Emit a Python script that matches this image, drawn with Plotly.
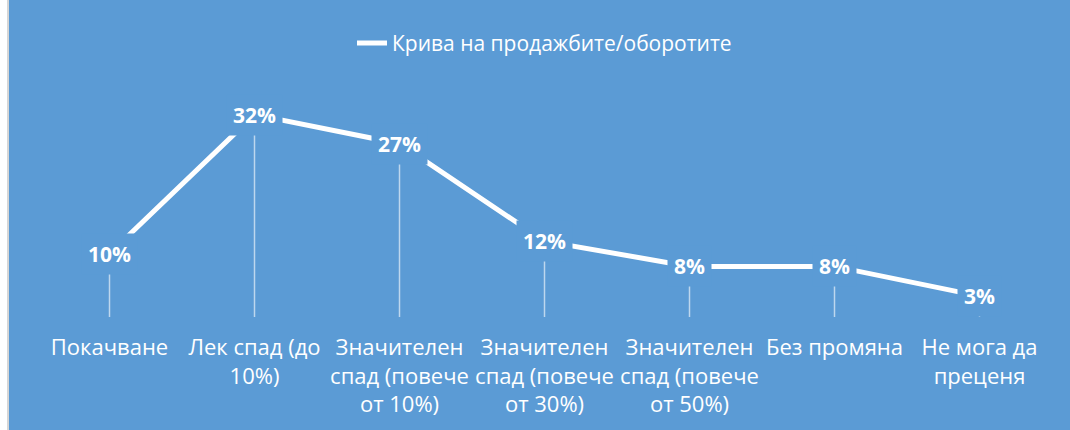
import plotly.graph_objects as go

categories = [
    "Покачване",
    "Лек спад (до 10%)",
    "Значителен спад (повече от 10%)",
    "Значителен спад (повече от 30%)",
    "Значителен спад (повече от 50%)",
    "Без промяна",
    "Не мога да преценя",
]
tick_labels = [
    "Покачване",
    "Лек спад (до<br>10%)",
    "Значителен<br>спад (повече<br>от 10%)",
    "Значителен<br>спад (повече<br>от 30%)",
    "Значителен<br>спад (повече<br>от 50%)",
    "Без промяна",
    "Не мога да<br>преценя",
]
values = [0.10, 0.32, 0.274, 0.12, 0.08, 0.08, 0.033]
series_name = "Крива на продажбите/оборотите"

BG = "#5B9BD5"
FONT = "Open Sans"

fig = go.Figure()

# drop lines from each point down to the axis
fig.add_trace(go.Scatter(
    x=categories, y=values, mode="markers",
    marker=dict(size=1, opacity=0),
    showlegend=False, hoverinfo="skip",
    error_y=dict(type="data", symmetric=False, array=[0] * len(values),
                 arrayminus=values, width=0, thickness=1.5,
                 color="rgba(255,255,255,0.6)"),
))

fig.add_trace(go.Scatter(
    x=categories, y=values, mode="lines", name=series_name,
    line=dict(color="white", width=5),
))

for c, v in zip(categories, values):
    fig.add_annotation(
        x=c, y=v, xref="x", yref="y", text=f"<b>{v:.0%}</b>",
        showarrow=False, bgcolor=BG, borderpad=6,
        font=dict(family=FONT, size=21, color="white"),
    )

fig.update_layout(
    width=1061, height=430,
    paper_bgcolor=BG, plot_bgcolor=BG,
    margin=dict(l=28, r=18, t=64, b=110),
    font=dict(family=FONT, color="white", size=21),
    showlegend=True,
    legend=dict(orientation="h", x=0.5, xanchor="center", y=1.082, yanchor="middle",
                font=dict(family=FONT, size=21, color="white"),
                bgcolor="rgba(0,0,0,0)"),
    xaxis=dict(type="category", tickvals=categories, ticktext=tick_labels,
               range=[-0.5, len(categories) - 0.5],
               showgrid=False, zeroline=False, showline=False, ticks="",
               ticklabelstandoff=15,
               tickfont=dict(family=FONT, size=22, color="white")),
    yaxis=dict(range=[0, 0.4], visible=False, showgrid=False, zeroline=False),
)

post = (
    "document.body.style.margin='0';"
    "document.body.style.paddingLeft='7px';"
    "document.body.style.background='white';"
    "document.body.style.overflow='hidden';"
    "var d=document.getElementById('{plot_id}');"
    "d.style.borderLeft='2px solid #d6d6d6';"
)

fig.write_html("out.html", post_script=post)
